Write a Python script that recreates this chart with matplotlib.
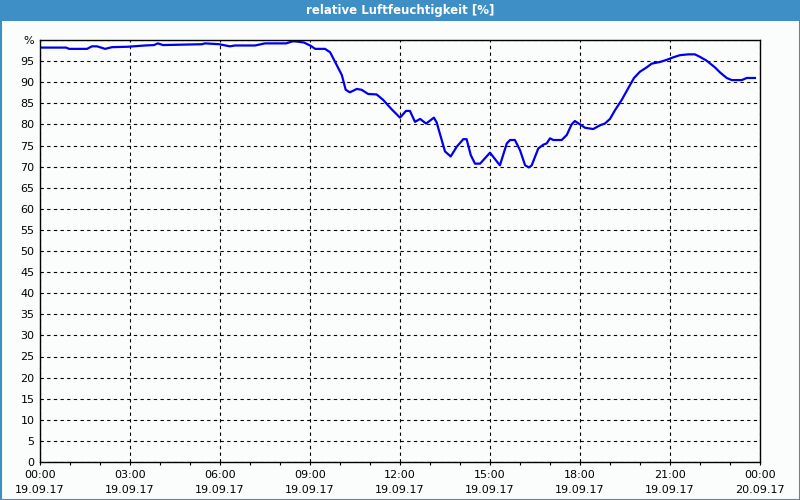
import matplotlib
matplotlib.use("Agg")
import matplotlib.pyplot as plt
from matplotlib.patches import Rectangle
from matplotlib.ticker import MultipleLocator

# hours since 19.09.17 00:00 and relative humidity in %
hours = [
    0.0, 0.87, 0.97, 1.57, 1.73, 1.9, 2.17, 2.4, 2.93, 3.5, 3.8, 3.93, 4.1,
    5.4, 5.5, 5.97, 6.33, 6.5, 7.17, 7.5, 8.2, 8.43, 8.6, 8.8, 9.03, 9.17,
    9.5, 9.67, 9.83, 10.06, 10.19, 10.33, 10.56, 10.72, 10.94, 11.22, 11.44,
    11.72, 12.0, 12.2, 12.33, 12.5, 12.67, 12.87, 13.13, 13.22, 13.5, 13.69,
    13.89, 14.11, 14.22, 14.36, 14.5, 14.67, 15.0, 15.33, 15.56, 15.67,
    15.83, 16.0, 16.17, 16.3, 16.39, 16.61, 16.78, 16.89, 17.0, 17.11,
    17.39, 17.56, 17.72, 17.83, 18.0, 18.17, 18.44, 18.67, 18.83, 19.0,
    19.17, 19.39, 19.61, 19.8, 20.0, 20.22, 20.39, 20.67, 20.89, 21.11,
    21.33, 21.61, 21.83, 22.0, 22.22, 22.5, 22.67, 22.89, 23.06, 23.39,
    23.56, 23.83,
]
humidity = [
    98.2, 98.2, 97.9, 97.9, 98.5, 98.5, 97.9, 98.3, 98.4, 98.7, 98.8, 99.2, 98.8,
    99.0, 99.2, 99.0, 98.5, 98.7, 98.7, 99.2, 99.2, 99.7, 99.6, 99.4, 98.6, 97.9,
    97.9, 97.1, 94.9, 91.7, 88.2, 87.6, 88.4, 88.2, 87.2, 87.1, 85.8,
    83.6, 81.6, 83.2, 83.2, 80.6, 81.3, 80.2, 81.6, 80.5, 73.6, 72.4,
    74.7, 76.5, 76.5, 72.7, 70.7, 70.7, 73.3, 70.3, 75.5, 76.3,
    76.3, 73.9, 70.3, 69.8, 70.3, 74.3, 75.2, 75.5, 76.7, 76.3,
    76.3, 77.5, 80.0, 80.8, 80.0, 79.2, 78.9, 79.8, 80.2, 81.3,
    83.4, 85.8, 88.6, 91.0, 92.5, 93.5, 94.4, 94.8, 95.3, 95.9,
    96.4, 96.6, 96.6, 96.0, 95.1, 93.5, 92.3, 91.0, 90.5, 90.5,
    91.0, 91.0,
]

x_ticks = [0, 3, 6, 9, 12, 15, 18, 21, 24]
x_labels = ["00:00\n19.09.17", "03:00\n19.09.17", "06:00\n19.09.17",
            "09:00\n19.09.17", "12:00\n19.09.17", "15:00\n19.09.17",
            "18:00\n19.09.17", "21:00\n19.09.17", "00:00\n20.09.17"]
y_ticks = list(range(0, 101, 5))
y_labels = [str(v) for v in range(0, 100, 5)] + ["%"]

title = "relative Luftfeuchtigkeit [%]"
frame_blue = "#3d8fc6"

fig = plt.figure(figsize=(8, 5), dpi=100, facecolor="#fbfdfd")

# title bar and window border
fig.patches.append(Rectangle((0, 1 - 21 / 500), 1, 21 / 500, transform=fig.transFigure,
                             facecolor=frame_blue, edgecolor="none", zorder=0))
fig.patches.append(Rectangle((0.5 / 800, 0.5 / 500), 1 - 1 / 800, 1 - 1 / 500,
                             transform=fig.transFigure, facecolor="none",
                             edgecolor=frame_blue, linewidth=1.5, zorder=0))
fig.text(0.5, 1 - 10.5 / 500, title, color="white", fontsize=8.5, fontweight="bold",
         ha="center", va="center")

ax = fig.add_axes([40 / 800, 38 / 500, 720 / 800, 422 / 500])
ax.set_facecolor("#fbfdfd")
ax.plot(hours, humidity, color="#0000ee", linewidth=1.6)

ax.set_xlim(0, 24)
ax.set_ylim(0, 100)
ax.set_xticks(x_ticks)
ax.set_xticklabels(x_labels, fontsize=8, linespacing=1.65)
ax.xaxis.set_minor_locator(MultipleLocator(1))
ax.set_yticks(y_ticks)
ax.set_yticklabels(y_labels, fontsize=8)

ax.tick_params(axis="x", which="both", direction="out", length=2.5, width=0.8, pad=3)
ax.tick_params(axis="y", length=0, pad=4)

ax.grid(True, which="major", color="black", linestyle=(0, (3, 3)), linewidth=0.8)
for spine in ax.spines.values():
    spine.set_linewidth(1)
    spine.set_color("black")

fig.savefig("out.png", dpi=100, facecolor=fig.get_facecolor())
